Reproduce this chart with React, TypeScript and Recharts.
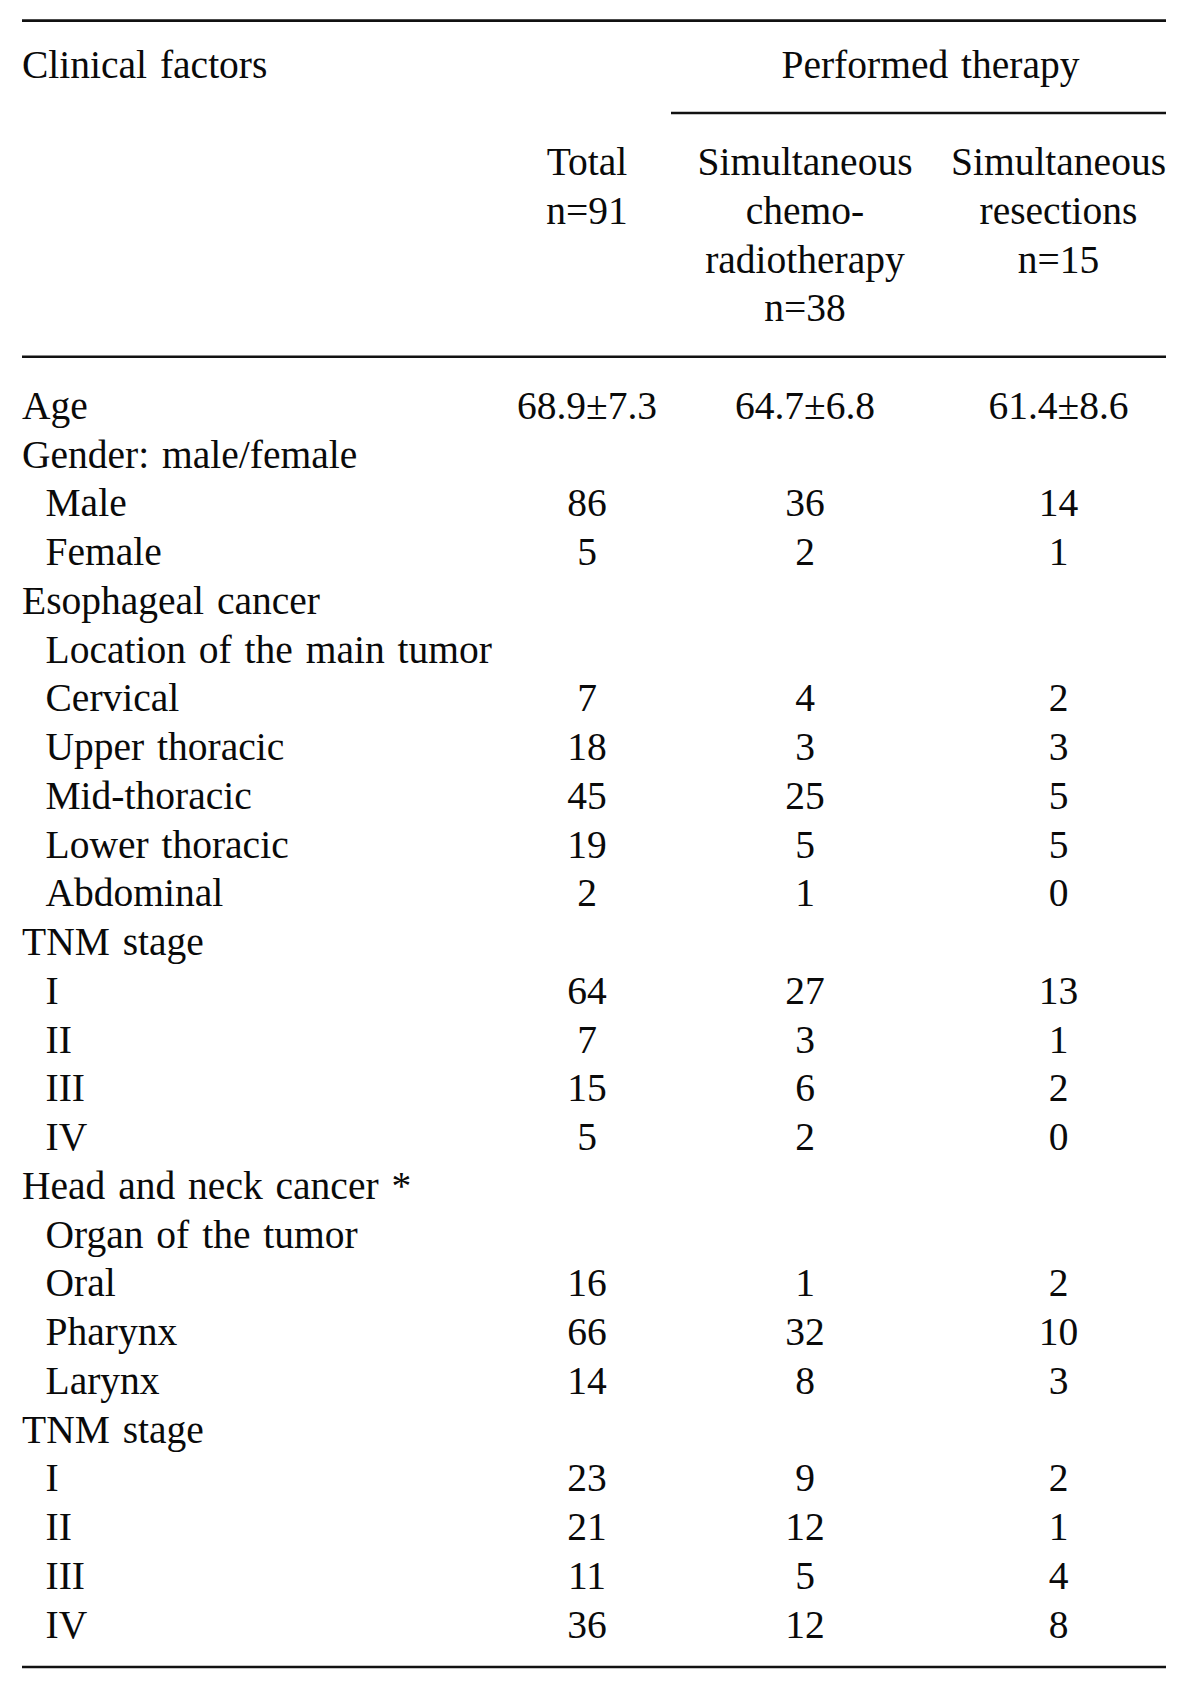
import { ScatterChart, Scatter, XAxis, YAxis, ReferenceLine } from "recharts";

// table content
const STUB_HEADER = "Clinical factors";
const SPAN_HEADER = "Performed therapy";
const COLUMN_HEADERS = [
  ["Total", "n=91"],
  ["Simultaneous", "chemo-", "radiotherapy", "n=38"],
  ["Simultaneous", "resections", "n=15"],
];

const ROW_LABELS = [
  "Age",
  "Gender: male/female",
  "Male",
  "Female",
  "Esophageal cancer",
  "Location of the main tumor",
  "Cervical",
  "Upper thoracic",
  "Mid-thoracic",
  "Lower thoracic",
  "Abdominal",
  "TNM stage",
  "I",
  "II",
  "III",
  "IV",
  "Head and neck cancer *",
  "Organ of the tumor",
  "Oral",
  "Pharynx",
  "Larynx",
  "TNM stage",
  "I",
  "II",
  "III",
  "IV",
];
const ROW_INDENT = [0, 0, 1, 1, 0, 1, 1, 1, 1, 1, 1, 0, 1, 1, 1, 1, 0, 1, 1, 1, 1, 0, 1, 1, 1, 1];

const TOTAL = ["68.9±7.3", "", "86", "5", "", "", "7", "18", "45", "19", "2", "", "64", "7", "15", "5", "", "", "16", "66", "14", "", "23", "21", "11", "36"];
const CHEMO_RT = ["64.7±6.8", "", "36", "2", "", "", "4", "3", "25", "5", "1", "", "27", "3", "6", "2", "", "", "1", "32", "8", "", "9", "12", "5", "12"];
const RESECTION = ["61.4±8.6", "", "14", "1", "", "", "2", "3", "5", "5", "0", "", "13", "1", "2", "0", "", "", "2", "10", "3", "", "2", "1", "4", "8"];

// layout (text lines counted from the header top line)
const STUB_X = 22;
const INDENT_X = 45.5;
const COLUMN_X = [587, 805, 1058.5];
const SPAN_X = 930.5;
const FIRST_BODY_LINE = 7;
const LAST_LINE = 32;
const RULES = [
  { y: -1.17, x1: 22, x2: 1166 },
  { y: 0.724, x1: 671, x2: 1166 },
  { y: 5.723, x1: 22, x2: 1166 },
  { y: 32.6, x1: 22, x2: 1166 },
];

type Cell = { x: number; y: number; text: string; anchor: "start" | "middle" };

const headerCells: Cell[] = [
  { x: STUB_X, y: 0, text: STUB_HEADER, anchor: "start" },
  { x: SPAN_X, y: 0, text: SPAN_HEADER, anchor: "middle" },
  ...COLUMN_HEADERS.flatMap((lines, c) =>
    lines.map((t, i) => ({ x: COLUMN_X[c], y: 2 + i, text: t, anchor: "middle" as const })),
  ),
];

const labelCells: Cell[] = ROW_LABELS.map((t, i) => ({
  x: ROW_INDENT[i] ? INDENT_X : STUB_X,
  y: FIRST_BODY_LINE + i,
  text: t,
  anchor: "start",
}));

const valueCells: Cell[] = [TOTAL, CHEMO_RT, RESECTION].flatMap((col, c) =>
  col
    .map((t, i) => ({ x: COLUMN_X[c], y: FIRST_BODY_LINE + i, text: t, anchor: "middle" as const }))
    .filter((d) => d.text !== ""),
);

const TextShape = (props: any) => {
  const { cx, cy, payload } = props;
  return (
    <text
      x={cx}
      y={cy}
      textAnchor={payload.anchor}
      fontFamily="'Liberation Serif', 'Times New Roman', serif"
      fontSize={39.5}
      wordSpacing={3}
      fill="#0a0a0a"
    >
      {payload.text}
    </text>
  );
};

export default function App() {
  return (
    <div style={{ position: "absolute", left: 0, top: 0, width: 1200, height: 1689, background: "#fff" }}>
      <ScatterChart
        width={1200}
        height={1689}
        margin={{ top: 77.7, right: 0, bottom: 51.3, left: 0 }}
      >
        <XAxis type="number" dataKey="x" domain={[0, 1200]} hide />
        <YAxis type="number" dataKey="y" domain={[0, LAST_LINE]} reversed hide />
        {RULES.map((r, i) => (
          <ReferenceLine
            key={i}
            segment={[
              { x: r.x1, y: r.y },
              { x: r.x2, y: r.y },
            ]}
            stroke="#111"
            strokeWidth={2.6}
            ifOverflow="visible"
          />
        ))}
        <Scatter data={headerCells} shape={TextShape} isAnimationActive={false} />
        <Scatter data={labelCells} shape={TextShape} isAnimationActive={false} />
        <Scatter data={valueCells} shape={TextShape} isAnimationActive={false} />
      </ScatterChart>
    </div>
  );
}
